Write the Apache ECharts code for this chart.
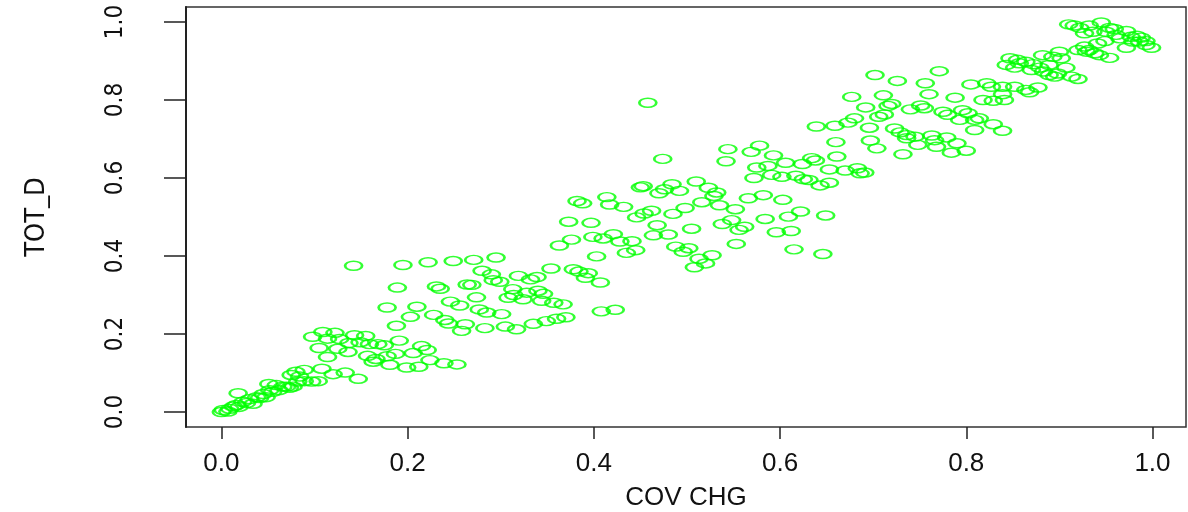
<!DOCTYPE html>
<html>
<head>
<meta charset="utf-8">
<script src="https://cdn.jsdelivr.net/npm/echarts@6/dist/echarts.min.js"></script>
<style>
html,body{margin:0;padding:0;background:#fff;overflow:hidden;}
#chart{width:1188px;height:512px;}
</style>
</head>
<body>
<div id="chart"></div>
<script>
// COV CHG (x) values
const covChg = [
0.000,0.002,0.007,0.009,0.013,0.016,0.019,0.018,0.023,0.027,0.030,0.034,0.038,0.041,0.045,0.048,0.052,0.051,0.055,0.059,
0.062,0.066,0.070,0.073,0.077,0.075,0.080,0.084,0.082,0.089,0.089,0.097,0.104,0.108,0.120,0.133,0.147,0.142,0.098,0.109,
0.122,0.114,0.127,0.143,0.155,0.105,0.125,0.137,0.149,0.159,0.168,0.136,0.114,0.157,0.166,0.163,0.181,0.199,0.212,0.224,
0.239,0.253,0.195,0.189,0.178,0.188,0.191,0.175,0.178,0.187,
// band 0.2 - 0.4
0.222,0.249,0.271,0.295,0.280,0.290,0.292,0.299,0.319,0.332,0.339,0.354,0.378,0.384,0.394,0.391,0.407,0.231,0.235,0.264,
0.269,0.274,0.313,0.308,0.314,0.324,0.328,0.340,0.346,0.344,0.357,0.367,0.246,0.256,0.210,0.203,0.228,0.240,0.244,0.262,
0.258,0.277,0.285,0.301,0.283,0.305,0.317,0.335,0.349,0.360,0.370,0.408,0.423,0.215,0.221,0.206,0.382,0.388,0.373,0.397,
0.376,0.363,0.399,0.403,
// band 0.4 - 0.66
0.458,0.474,0.544,0.542,0.569,0.578,0.593,0.575,0.587,0.606,0.624,0.634,0.638,0.639,0.659,0.660,0.661,0.653,0.572,0.591,
0.602,0.617,0.625,0.631,0.643,0.653,0.450,0.453,0.470,0.476,0.484,0.492,0.510,0.523,0.532,0.529,0.414,0.417,0.432,0.446,
0.454,0.462,0.485,0.498,0.516,0.535,0.552,0.566,0.582,0.603,0.468,0.464,0.480,0.505,0.538,0.548,0.556,0.562,0.584,0.609,
0.622,0.649,0.596,0.612,0.553,0.615,0.646,0.421,0.410,0.428,0.441,0.435,0.445,0.488,0.502,0.496,0.513,0.527,0.520,0.508,
// band 0.66 - 0.84
0.702,0.726,0.771,0.756,0.677,0.711,0.760,0.788,0.692,0.716,0.720,0.706,0.712,0.740,0.751,0.755,0.775,0.780,0.796,0.802,
0.793,0.809,0.814,0.829,0.809,0.839,0.680,0.673,0.696,0.723,0.729,0.736,0.745,0.763,0.766,0.779,0.736,0.748,0.768,0.790,
0.784,0.800,0.697,0.704,0.732,0.670,0.683,0.691,0.686,0.805,0.822,0.827,0.818,0.829,
// band 0.84 - 1.0
0.910,0.916,0.922,0.927,0.936,0.932,0.945,0.954,0.959,0.972,0.977,0.983,0.988,0.993,0.999,0.993,0.986,0.972,0.965,0.949,
0.941,0.927,0.920,0.929,0.938,0.943,0.954,0.900,0.882,0.902,0.893,0.907,0.913,0.920,0.847,0.855,0.864,0.872,0.843,0.852,
0.870,0.879,0.883,0.889,0.895,0.839,0.852,0.864,0.877,0.868,0.839,0.841,0.857,0.889,0.898,0.950,0.961,0.979,0.932
];
// TOT_D (y) values
const totD = [
0.000,0.005,0.001,0.008,0.014,0.018,0.013,0.048,0.026,0.023,0.033,0.021,0.038,0.036,0.046,0.038,0.056,0.072,0.052,0.069,
0.056,0.065,0.065,0.062,0.065,0.095,0.103,0.091,0.078,0.108,0.079,0.078,0.079,0.111,0.097,0.101,0.085,0.375,0.193,0.205,
0.203,0.188,0.187,0.197,0.195,0.164,0.162,0.177,0.179,0.174,0.174,0.154,0.141,0.144,0.136,0.129,0.121,0.114,0.116,0.133,
0.125,0.122,0.377,0.319,0.268,0.221,0.183,0.171,0.143,0.149,
0.384,0.387,0.390,0.396,0.362,0.353,0.338,0.334,0.349,0.340,0.346,0.368,0.366,0.360,0.356,0.344,0.332,0.322,0.316,0.327,
0.326,0.294,0.315,0.293,0.300,0.289,0.306,0.311,0.303,0.285,0.280,0.276,0.283,0.273,0.270,0.244,0.249,0.236,0.227,0.225,
0.208,0.263,0.255,0.251,0.215,0.219,0.212,0.226,0.233,0.239,0.243,0.258,0.262,0.169,0.159,0.151,0.541,0.535,0.488,0.485,
0.442,0.427,0.449,0.399,
0.793,0.649,0.674,0.643,0.667,0.683,0.658,0.627,0.631,0.639,0.636,0.651,0.645,0.732,0.734,0.692,0.655,0.622,0.600,0.608,
0.603,0.606,0.597,0.595,0.581,0.588,0.576,0.579,0.561,0.571,0.584,0.567,0.591,0.575,0.563,0.554,0.551,0.532,0.526,0.499,
0.509,0.516,0.508,0.523,0.538,0.530,0.520,0.548,0.556,0.544,0.479,0.453,0.455,0.470,0.482,0.492,0.467,0.475,0.495,0.501,
0.514,0.504,0.461,0.464,0.431,0.417,0.405,0.456,0.445,0.437,0.438,0.408,0.415,0.424,0.420,0.411,0.393,0.402,0.381,0.371,
0.864,0.849,0.874,0.843,0.808,0.812,0.815,0.806,0.781,0.785,0.790,0.757,0.763,0.776,0.786,0.779,0.770,0.762,0.774,0.766,
0.749,0.749,0.753,0.738,0.723,0.721,0.753,0.742,0.729,0.727,0.717,0.710,0.706,0.709,0.697,0.704,0.702,0.685,0.680,0.689,
0.665,0.670,0.696,0.676,0.661,0.619,0.625,0.614,0.612,0.840,0.843,0.834,0.800,0.798,
0.994,0.991,0.985,0.971,0.975,0.991,0.999,0.985,0.982,0.977,0.962,0.965,0.960,0.951,0.934,0.941,0.950,0.934,0.958,0.951,
0.945,0.937,0.928,0.924,0.920,0.915,0.908,0.924,0.915,0.907,0.911,0.883,0.860,0.854,0.907,0.903,0.898,0.892,0.890,0.883,
0.877,0.883,0.873,0.864,0.860,0.834,0.834,0.826,0.832,0.820,0.815,0.800,0.894,0.890,0.868,0.975,0.967,0.950,0.928
];
const xTicks = [0.0, 0.2, 0.4, 0.6, 0.8, 1.0];
const yTicks = [0.0, 0.2, 0.4, 0.6, 0.8, 1.0];

const points = covChg.map((x, i) => [x, totD[i]]);
const chart = echarts.init(document.getElementById('chart'), null, {renderer: 'canvas'});
const txtColor = '#111';
const narrow = "'Liberation Sans Narrow','DejaVu Sans Condensed','Liberation Sans'";
chart.setOption({
  animation: false,
  backgroundColor: '#ffffff',
  grid: {left: 186, right: 2, top: 7, bottom: 85, show: true, borderColor: '#333', borderWidth: 1.5,
         containLabel: false, outerBoundsMode: 'none'},
  xAxis: {
    type: 'value', min: -0.038, max: 1.036,
    axisLine: {show: false, onZero: false}, splitLine: {show: false},
    axisTick: {show: true, customValues: xTicks, length: 12, lineStyle: {color: '#222', width: 1.5}},
    axisLabel: {customValues: xTicks, formatter: v => v.toFixed(1), fontFamily: 'Liberation Sans', fontSize: 26, color: txtColor, margin: 24},
    name: 'COV CHG', nameLocation: 'middle', nameGap: 58,
    nameTextStyle: {fontFamily: 'Liberation Sans', fontSize: 26, color: txtColor}
  },
  yAxis: {
    type: 'value', min: -0.0385, max: 1.0385,
    axisLine: {show: true, onZero: false, lineStyle: {color: '#222', width: 2}}, splitLine: {show: false},
    axisTick: {show: true, customValues: yTicks, length: 22, lineStyle: {color: '#222', width: 1.5}},
    axisLabel: {customValues: yTicks, formatter: v => v.toFixed(1), rotate: 90, fontFamily: narrow, fontSize: 24, color: txtColor, margin: 58},
    name: 'TOT_D', nameLocation: 'middle', nameGap: 136, nameRotate: 90,
    nameTextStyle: {fontFamily: narrow, fontSize: 27, color: txtColor}
  },
  series: [{
    type: 'scatter',
    data: points,
    symbol: 'circle',
    symbolSize: [17, 9],
    itemStyle: {color: 'rgba(0,0,0,0)', borderColor: '#00ff00', borderWidth: 2},
    emphasis: {disabled: true}
  }]
});
</script>
</body>
</html>
